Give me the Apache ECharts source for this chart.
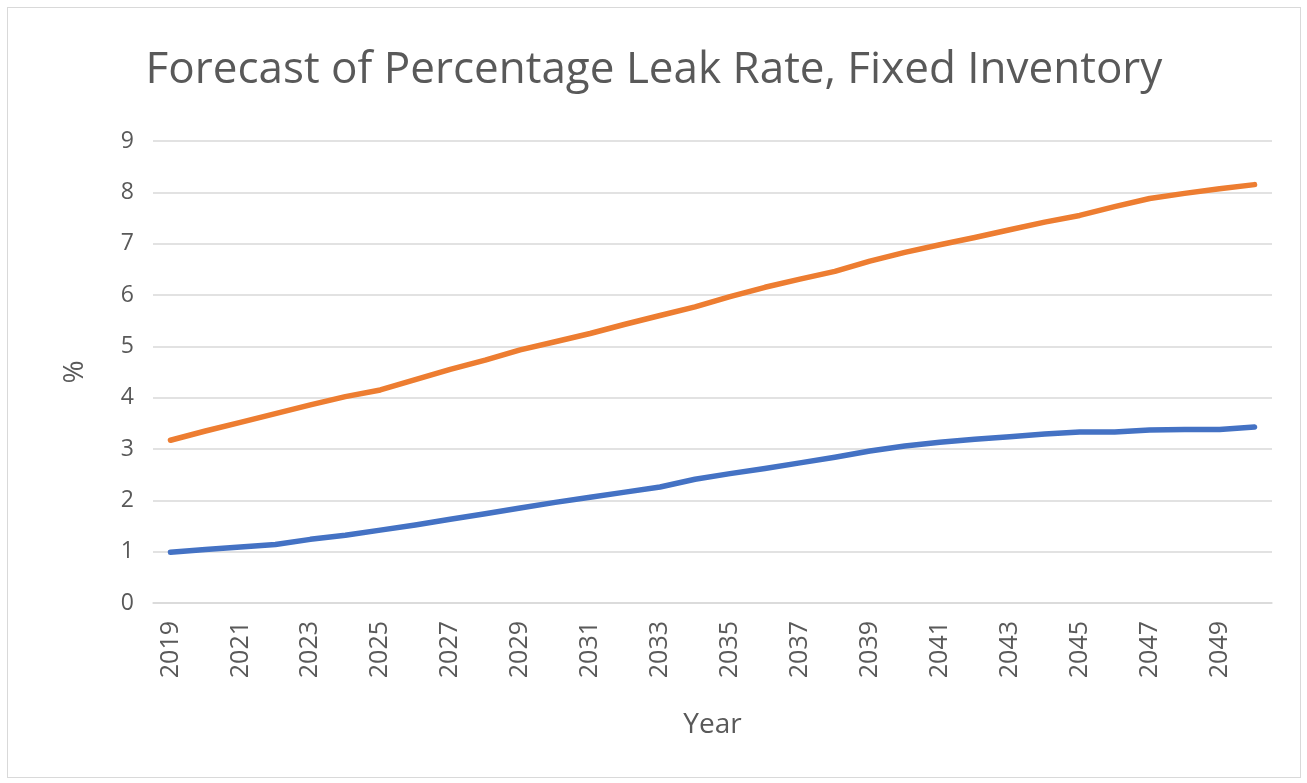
<!DOCTYPE html>
<html>
<head>
    <meta charset="UTF-8">
    <title>Forecast of Percentage Leak Rate, Fixed Inventory</title>
    <script src="https://cdn.jsdelivr.net/npm/echarts@6/dist/echarts.min.js"></script>
    <style>
        html, body { margin: 0; padding: 0; background: #fff; }
        #chart {
            position: absolute; left: 7px; top: 7px;
            width: 1292px; height: 769px;
            border: 1px solid #d9d9d9;
        }
    </style>
</head>
<body>
    <div id="chart"></div>

    <script>
        // years along the x axis
        const years = [];
        for (let y = 2019; y <= 2050; y++) years.push(String(y));

        // values
        const upperSeries = [3.17, 3.35, 3.52, 3.69, 3.86, 4.02, 4.15, 4.35, 4.55, 4.73,
            4.93, 5.09, 5.25, 5.43, 5.60, 5.77, 5.97, 6.15, 6.31, 6.46,
            6.66, 6.83, 6.98, 7.12, 7.27, 7.42, 7.55, 7.72, 7.88, 7.98,
            8.07, 8.15];
        const lowerSeries = [0.99, 1.04, 1.09, 1.14, 1.24, 1.32, 1.42, 1.52, 1.63, 1.74,
            1.85, 1.96, 2.06, 2.16, 2.26, 2.41, 2.52, 2.62, 2.73, 2.84,
            2.96, 3.06, 3.13, 3.19, 3.24, 3.29, 3.33, 3.33, 3.37, 3.38,
            3.38, 3.43];

        const textColor = '#595959';
        const font = 'Open Sans';

        const myChart = echarts.init(document.getElementById('chart'));

        const option = {
            animation: false,
            title: {
                text: 'Forecast of Percentage Leak Rate, Fixed Inventory',
                left: 'center',
                top: 35,
                textStyle: { color: textColor, fontSize: 44, fontWeight: 'normal', fontFamily: font }
            },
            grid: { left: 145, right: 28, top: 133, bottom: 174 },
            xAxis: {
                type: 'category',
                data: years,
                boundaryGap: true,
                name: 'Year',
                nameLocation: 'middle',
                nameGap: 108,
                nameTextStyle: { color: textColor, fontSize: 28, fontFamily: font },
                axisLine: { lineStyle: { color: '#d9d9d9', width: 1.5 } },
                axisTick: { show: false },
                axisLabel: {
                    interval: 1,
                    rotate: 90,
                    margin: 18,
                    color: textColor,
                    fontSize: 25,
                    fontFamily: font
                }
            },
            yAxis: {
                type: 'value',
                min: 0,
                max: 9,
                interval: 1,
                name: '%',
                nameLocation: 'middle',
                nameGap: 64,
                nameRotate: 90,
                nameTextStyle: { color: textColor, fontSize: 28, fontFamily: font },
                axisLine: { show: false },
                axisTick: { show: false },
                axisLabel: { color: textColor, fontSize: 23, margin: 19, fontFamily: font },
                splitLine: { lineStyle: { color: '#d9d9d9', width: 1.5 } }
            },
            series: [
                {
                    name: 'Upper',
                    type: 'line',
                    data: upperSeries,
                    symbol: 'none',
                    lineStyle: { color: '#ED7D31', width: 5.5, cap: 'round', join: 'round' },
                    itemStyle: { color: '#ED7D31' }
                },
                {
                    name: 'Lower',
                    type: 'line',
                    data: lowerSeries,
                    symbol: 'none',
                    lineStyle: { color: '#4472C4', width: 5.5, cap: 'round', join: 'round' },
                    itemStyle: { color: '#4472C4' }
                }
            ]
        };

        myChart.setOption(option);
    </script>
</body>
</html>
